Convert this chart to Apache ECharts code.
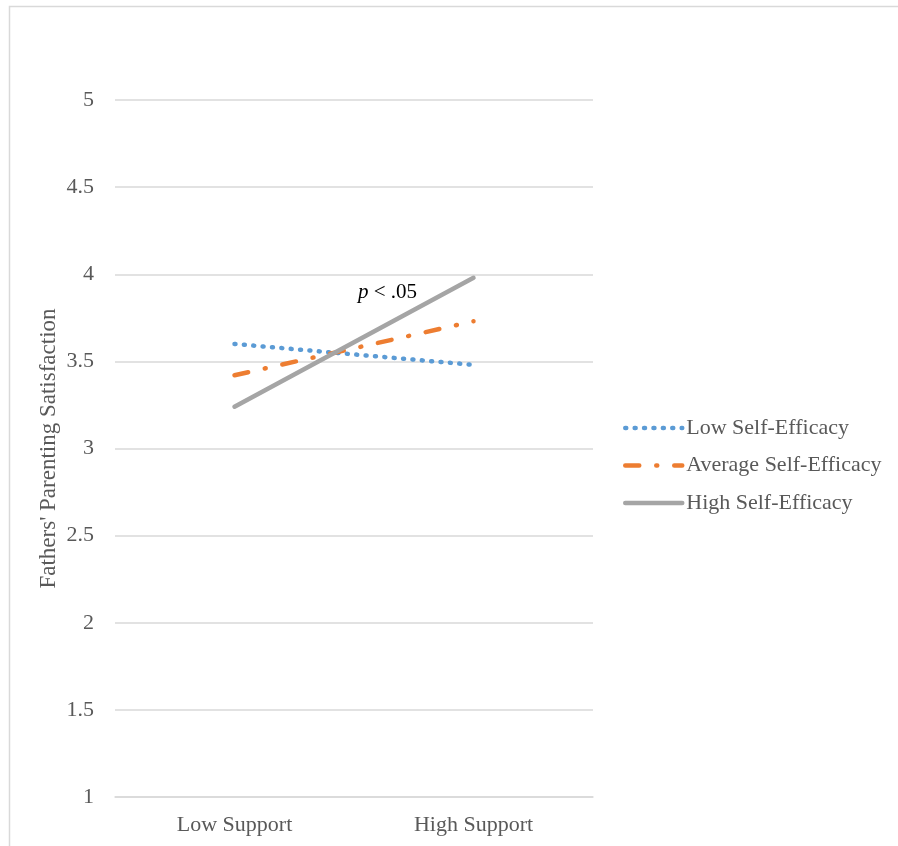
<!DOCTYPE html>
<html><head><meta charset="utf-8">
<script src="https://cdn.jsdelivr.net/npm/echarts@6/dist/echarts.min.js"></script>
<style>html,body{margin:0;padding:0;background:#fff}#c{width:898px;height:846px}</style>
</head><body><div id="c"></div>
<script>
const categories = ['Low Support', 'High Support'];
const lowSE = [3.60, 3.48];
const avgSE = [3.42, 3.73];
const highSE = [3.24, 3.98];
const seriesNames = ['Low Self-Efficacy', 'Average Self-Efficacy', 'High Self-Efficacy'];
const yTicks = {min: 1, max: 5, interval: 0.5};

const font = 'Liberation Serif';
const chart = echarts.init(document.getElementById('c'));
chart.setOption({
  animation: false,
  backgroundColor: '#fff',
  grid: {left: 115, right: 305, top: 100, bottom: 49},
  xAxis: {
    type: 'category', data: categories, boundaryGap: true,
    axisLine: {show: true, lineStyle: {color: '#D9D9D9', width: 1.5}},
    axisTick: {show: false},
    axisLabel: {color: '#595959', fontFamily: font, fontSize: 22, margin: 17}
  },
  yAxis: {
    type: 'value', min: yTicks.min, max: yTicks.max, interval: yTicks.interval,
    name: "Fathers' Parenting Satisfaction", nameLocation: 'middle', nameGap: 55,
    nameMoveOverlap: false,
    nameTextStyle: {color: '#595959', fontFamily: font, fontSize: 23},
    axisLine: {show: false}, axisTick: {show: false},
    axisLabel: {color: '#595959', fontFamily: font, fontSize: 22, margin: 21},
    splitLine: {lineStyle: {color: '#D9D9D9', width: 1.5}}
  },
  legend: {
    orient: 'vertical', left: 618, top: 412, itemWidth: 57, itemHeight: 20, itemGap: 15.5,
    itemStyle: {opacity: 0},
    lineStyle: {width: 4.5},
    textStyle: {color: '#595959', fontFamily: font, fontSize: 22, padding: [0,0,0,-1]},
    data: seriesNames
  },
  series: [
    {name: seriesNames[0], type: 'line', data: lowSE, symbol: 'none',
     lineStyle: {color: '#5B9BD5', width: 4.5, type: [1, 8.4], cap: 'round'},
     itemStyle: {color: '#5B9BD5'}},
    {name: seriesNames[1], type: 'line', data: avgSE, symbol: 'none',
     lineStyle: {color: '#ED7D31', width: 4.5, type: [14, 17, 1, 17], cap: 'round'},
     itemStyle: {color: '#ED7D31'}},
    {name: seriesNames[2], type: 'line', data: highSE, symbol: 'none',
     lineStyle: {color: '#A5A5A5', width: 4.5, cap: 'round'},
     itemStyle: {color: '#A5A5A5'}}
  ],
  graphic: [
    {type: 'rect', silent: true, shape: {x: 9.5, y: 6.5, width: 1000, height: 1000},
     style: {fill: 'none', stroke: '#D9D9D9', lineWidth: 1.5}},
    {type: 'text', left: 358, top: 282,
     style: {text: '{i|p} < .05', rich: {i: {fontStyle: 'italic', fontFamily: font, fontSize: 21, fill: '#000'}},
       fontFamily: font, fontSize: 21, fill: '#000'}}
  ]
});
</script></body></html>
